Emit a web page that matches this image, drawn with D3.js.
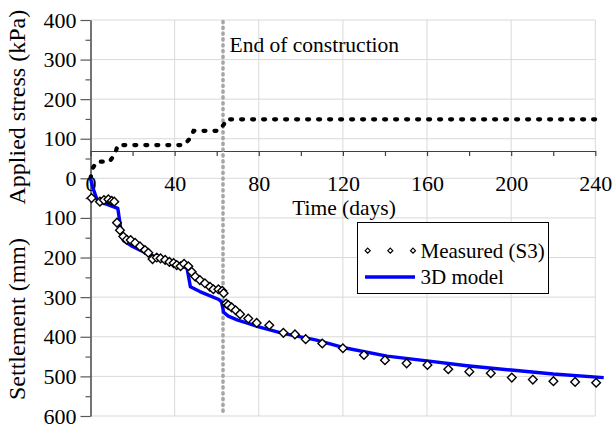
<!DOCTYPE html>
<html>
<head>
<meta charset="utf-8">
<script src="https://cdn.jsdelivr.net/npm/d3@7"></script>
<style>
  html, body { margin: 0; padding: 0; background: #fff; }
  svg { display: block; }
</style>
</head>
<body>
<svg id="chart" width="614" height="428"></svg>
<script>
// Applied stress history (kPa) over time (days)
const stressDays = [0, 1, 3, 9, 11.5, 13, 44.5, 47.5, 49, 61, 63.5, 64.5, 240];
const stressKPa  = [0, 25, 42, 42, 60, 84, 84, 102, 120, 120, 137, 149, 149];

// Measured settlement at S3 (mm)
const measuredDays = [0.5, 4.5, 6.4, 8.5, 10.1, 11.3, 12.6, 14, 15.6, 17.2, 19.1, 21.2, 23.5, 25.9, 27.5,
  29.5, 31.5, 33.3, 35.5, 37.5, 39.5, 41, 42.8, 44.5, 46.5, 48.1, 49.8, 52, 54.4, 56.8, 58.4, 60.8, 62.6, 63.3,
  64.5, 65.5, 67.1, 69, 71.1, 75, 79, 85, 91.7, 97.2, 102.3, 110.2, 120, 130, 140, 150.3, 160.2, 170.1,
  180.1, 190.3, 200.3, 210.3, 220.1, 230.4, 240.4];
const measuredMM = [50, 59, 55, 53, 57, 59, 112, 131, 147, 155, 156, 163, 172, 181, 188,
  204, 200, 202, 206, 211, 214, 219, 222, 216, 222, 236, 248, 257, 265, 274, 280, 280, 284, 290,
  316, 320, 326, 333, 343, 354, 365, 371, 390, 394, 406, 417, 429, 446, 459, 467, 471, 482,
  488, 492, 503, 508, 512, 514, 516];

// 3D model prediction (mm)
const modelDays = [0, 1, 3, 5, 13, 15, 15.8, 20, 28, 36, 45, 46, 47.5, 52, 61, 62.3, 63.3, 65.5, 70, 75,
  80, 91, 107, 120, 141, 160, 179, 200, 220, 244];
const modelMM = [0, 22, 52, 60, 76, 150, 158, 172, 193, 206, 220, 230, 274, 286, 306, 312, 338, 348, 358, 366,
  375, 391, 408, 427, 449, 461, 473, 484, 494, 503];

const xTicks = [0, 40, 80, 120, 160, 200, 240];
const stressTicks = [0, 100, 200, 300, 400];
const settleTicks = [100, 200, 300, 400, 500, 600];
const endOfConstructionDay = 63;

const serif = '"Liberation Serif", "Times New Roman", Times, "DejaVu Serif", serif';

const svg = d3.select("#chart");
const plotLeft = 90.5, plotRight = 595.3, plotTop = 20, zeroY = 178.3, plotBottom = 416;

const x = d3.scaleLinear().domain([0, 240]).range([plotLeft, plotRight]);
const yS = d3.scaleLinear().domain([0, 400]).range([zeroY, plotTop]);      // stress, upward
const yD = d3.scaleLinear().domain([0, 600]).range([zeroY, plotBottom]);   // settlement, downward

const gridColor = "#d9d9d9";
const axisColor = "#595959";

// gridlines
const grid = svg.append("g");
grid.selectAll(".vg").data(xTicks.slice(1)).join("line")
  .attr("x1", d => x(d)).attr("x2", d => x(d))
  .attr("y1", plotTop).attr("y2", plotBottom)
  .attr("stroke", gridColor).attr("stroke-width", 1);
grid.selectAll(".hs").data(stressTicks).join("line")
  .attr("x1", plotLeft).attr("x2", plotRight)
  .attr("y1", d => yS(d)).attr("y2", d => yS(d))
  .attr("stroke", gridColor).attr("stroke-width", 1);
grid.selectAll(".hd").data(settleTicks).join("line")
  .attr("x1", plotLeft).attr("x2", plotRight)
  .attr("y1", d => yD(d)).attr("y2", d => yD(d))
  .attr("stroke", gridColor).attr("stroke-width", 1);

// left axis: stress part and settlement part share one vertical line
function styleAxis(g) {
  g.attr("font-family", serif);
  g.selectAll("path, line").attr("stroke", axisColor).attr("stroke-width", 1.2);
  g.selectAll("text").style("font-family", serif).style("font-size", "22px").attr("fill", "#000");
}
const minorStress = [50, 150, 250, 350];
const minorSettle = [50, 150, 250, 350, 450, 550];

svg.append("g").attr("transform", `translate(${plotLeft},0)`)
  .call(d3.axisLeft(yS).tickValues(stressTicks).tickSizeInner(10).tickSizeOuter(0).tickPadding(4).tickFormat(d3.format("d")))
  .call(styleAxis);
svg.append("g").attr("transform", `translate(${plotLeft},0)`)
  .call(d3.axisLeft(yD).tickValues(settleTicks).tickSizeInner(10).tickSizeOuter(0).tickPadding(4).tickFormat(d3.format("d")))
  .call(styleAxis);
svg.append("g").attr("transform", `translate(${plotLeft},0)`)
  .call(d3.axisLeft(yS).tickValues(minorStress).tickSizeInner(5).tickSizeOuter(0).tickFormat(""))
  .call(styleAxis);
svg.append("g").attr("transform", `translate(${plotLeft},0)`)
  .call(d3.axisLeft(yD).tickValues(minorSettle).tickSizeInner(5).tickSizeOuter(0).tickFormat(""))
  .call(styleAxis);

// time axis, drawn across the stress panel
const timeAxisStress = 69;
const timeAxis = svg.append("g").attr("transform", `translate(0,${yS(timeAxisStress)})`)
  .call(d3.axisBottom(x).tickValues(d3.range(0, 241, 20)).tickSizeInner(5).tickSizeOuter(0).tickPadding(19)
    .tickFormat(d => xTicks.includes(d) ? d3.format("d")(d) : ""));
timeAxis.attr("font-family", serif);
timeAxis.selectAll("path, line").attr("stroke", "#404040").attr("stroke-width", 1.2);
timeAxis.selectAll("text").style("font-family", serif).style("font-size", "22px").attr("fill", "#000");

// end of construction marker
svg.append("line")
  .attr("x1", x(endOfConstructionDay)).attr("x2", x(endOfConstructionDay))
  .attr("y1", plotTop + 1.5).attr("y2", plotBottom - 2)
  .attr("stroke", "#a6a6a6").attr("stroke-width", 3.6)
  .attr("stroke-linecap", "round").attr("stroke-dasharray", "1.2 4.6");
svg.append("text").attr("x", x(endOfConstructionDay) + 6.5).attr("y", 52)
  .style("font-family", serif).style("font-size", "21.5px").text("End of construction");

// stress history
const stressLine = d3.line().x(d => x(d[0])).y(d => yS(d[1]));
svg.append("path")
  .datum(stressDays.map((d, i) => [d, stressKPa[i]]))
  .attr("d", stressLine)
  .attr("fill", "none").attr("stroke", "#000").attr("stroke-width", 4.2)
  .attr("stroke-linecap", "round").attr("stroke-dasharray", "2 9");

// model line
const settleLine = d3.line().x(d => x(d[0])).y(d => yD(d[1]));
svg.append("path")
  .datum(modelDays.map((d, i) => [d, modelMM[i]]))
  .attr("d", settleLine)
  .attr("fill", "none").attr("stroke", "#0000ff").attr("stroke-width", 3.4)
  .attr("stroke-linejoin", "round");

// measured points
const diamond = d3.symbol().type(d3.symbolDiamond2).size(48);
svg.append("g").selectAll("path")
  .data(measuredDays.map((d, i) => [d, measuredMM[i]]))
  .join("path")
  .attr("transform", d => `translate(${x(d[0])},${yD(d[1])})`)
  .attr("d", diamond)
  .attr("fill", "#fff").attr("stroke", "#000").attr("stroke-width", 1.4);

// axis titles
svg.append("text")
  .attr("transform", `translate(25,${(yS(400) + yS(0)) / 2 + 8}) rotate(-90)`)
  .attr("text-anchor", "middle").style("font-family", serif).style("font-size", "24px")
  .text("Applied stress (kPa)");
svg.append("text")
  .attr("transform", `translate(25,319) rotate(-90)`)
  .attr("text-anchor", "middle").style("font-family", serif).style("font-size", "24px")
  .text("Settlement (mm)");
svg.append("text").attr("x", 344).attr("y", 215)
  .attr("text-anchor", "middle").style("font-family", serif).style("font-size", "21.5px")
  .text("Time (days)");

// legend
const lg = svg.append("g");
lg.append("rect").attr("x", 357.5).attr("y", 222.5).attr("width", 191).attr("height", 71)
  .attr("fill", "#fff").attr("stroke", "#000").attr("stroke-width", 1);
const smallDiamond = d3.symbol().type(d3.symbolDiamond2).size(16);
lg.selectAll(".ld").data([367.7, 390.3, 413]).join("path")
  .attr("transform", d => `translate(${d},250.7)`)
  .attr("d", smallDiamond)
  .attr("fill", "#fff").attr("stroke", "#000").attr("stroke-width", 1.2);
lg.append("line").attr("x1", 365).attr("x2", 415).attr("y1", 277).attr("y2", 277)
  .attr("stroke", "#0000ff").attr("stroke-width", 3.4);
lg.append("text").attr("x", 420.5).attr("y", 258)
  .style("font-family", serif).style("font-size", "21px").text("Measured (S3)");
lg.append("text").attr("x", 420.5).attr("y", 284)
  .style("font-family", serif).style("font-size", "21px").text("3D model");
</script>
</body>
</html>
